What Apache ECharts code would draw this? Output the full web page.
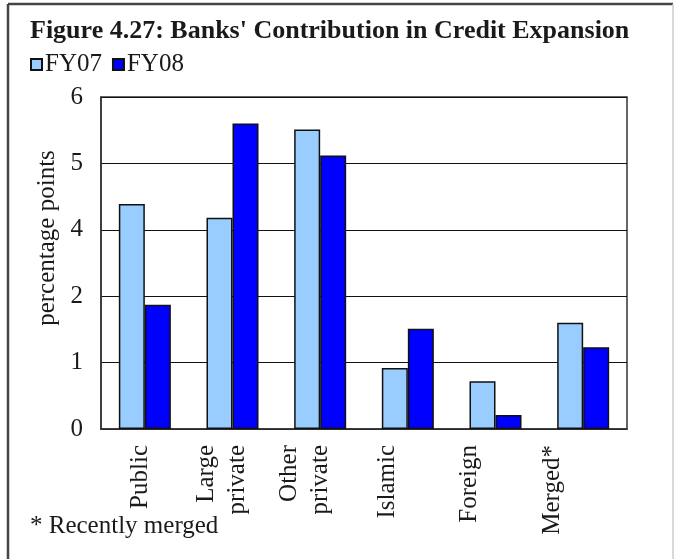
<!DOCTYPE html>
<html>
<head>
<meta charset="utf-8">
<script src="https://cdn.jsdelivr.net/npm/echarts@6/dist/echarts.min.js"></script>
<style>
html,body{margin:0;padding:0;background:#fff;}
#chart{width:675px;height:559px;}
</style>
</head>
<body>
<div id="chart"></div>
<script>
// Data (values in axis units as drawn; tick labels as printed on the figure)
const categories = ['Public', 'Large\nprivate', 'Other\nprivate', 'Islamic', 'Foreign', 'Merged*'];
const fy07 = [3.39, 3.18, 4.51, 0.92, 0.72, 1.60];
const fy08 = [1.87, 4.60, 4.12, 1.51, 0.21, 1.23];
const yTickLabels = ['0', '1', '2', '4', '5', '6'];
const seriesNames = ['FY07', 'FY08'];

const FONT = '"Liberation Serif", "Times New Roman", serif';
const chart = echarts.init(document.getElementById('chart'));
chart.setOption({
  animation: false,
  backgroundColor: '#fff',
  title: {
    text: "Figure 4.27: Banks' Contribution in Credit Expansion",
    left: 25, top: 13,
    textStyle: { fontFamily: FONT, fontWeight: 'bold', fontSize: 26, color: '#1a1a1a' }
  },
  legend: {
    left: 25, top: 47,
    itemWidth: 11, itemHeight: 11, itemGap: 10,
    icon: 'rect',
    textStyle: { fontFamily: FONT, fontSize: 25, color: '#1a1a1a', padding: [0, 0, 0, -2] },
    data: seriesNames
  },
  grid: [
    { left: 101, right: 48, top: 97, bottom: 130, show: true, borderColor: '#333', borderWidth: 1.5 },
    { left: 98.8, width: 494.4, top: 97, bottom: 130 }
  ],
  xAxis: [
    { type: 'category', gridIndex: 0, data: categories,
      axisLine: { show: true, lineStyle: { color: '#333', width: 1.5 } },
      axisTick: { show: false }, axisLabel: { show: false } },
    { type: 'category', gridIndex: 1, data: categories,
      axisLine: { show: false }, axisTick: { show: false },
      axisLabel: { rotate: 90, margin: 16, fontFamily: FONT, fontSize: 25, color: '#1a1a1a', lineHeight: 31 } }
  ],
  yAxis: [
    { type: 'value', gridIndex: 0, min: 0, max: 5, interval: 1,
      axisLine: { show: true, lineStyle: { color: '#333', width: 1.5 } },
      axisTick: { show: false },
      splitLine: { show: true, lineStyle: { color: '#111', width: 1.2 } },
      axisLabel: { margin: 18, fontFamily: FONT, fontSize: 25, color: '#1a1a1a',
        formatter: function (v) { return yTickLabels[Math.round(v)]; } } },
    { type: 'value', gridIndex: 1, show: false, min: 0, max: 5 }
  ],
  graphic: [
    { type: 'line', shape: { x1: 8, y1: 4, x2: 673, y2: 4 }, style: { stroke: '#444', lineWidth: 2.5 } },
    { type: 'line', shape: { x1: 8, y1: 4, x2: 8, y2: 559 }, style: { stroke: '#444', lineWidth: 2.5 } },
    { type: 'line', shape: { x1: 673, y1: 4, x2: 673, y2: 559 }, style: { stroke: '#ccc', lineWidth: 1.5 } },
    { type: 'text', x: 47, y: 238, rotation: Math.PI / 2,
      style: { text: 'percentage points', font: '25px ' + FONT, fill: '#1a1a1a', textAlign: 'center', textVerticalAlign: 'middle' } },
    { type: 'text', left: 30, top: 514,
      style: { text: '* Recently merged', font: '25px ' + FONT, fill: '#1a1a1a' } }
  ],
  series: [
    { name: seriesNames[0], type: 'bar', xAxisIndex: 0, yAxisIndex: 0, data: fy07,
      barWidth: 26, barGap: '0%',
      itemStyle: { color: '#99CCFF', borderColor: '#111', borderWidth: 1.5 } },
    { name: seriesNames[1], type: 'bar', xAxisIndex: 0, yAxisIndex: 0, data: fy08,
      barWidth: 26, barGap: '0%',
      itemStyle: { color: '#0000FF', borderColor: '#111', borderWidth: 1.5 } }
  ]
});
</script>
</body>
</html>
